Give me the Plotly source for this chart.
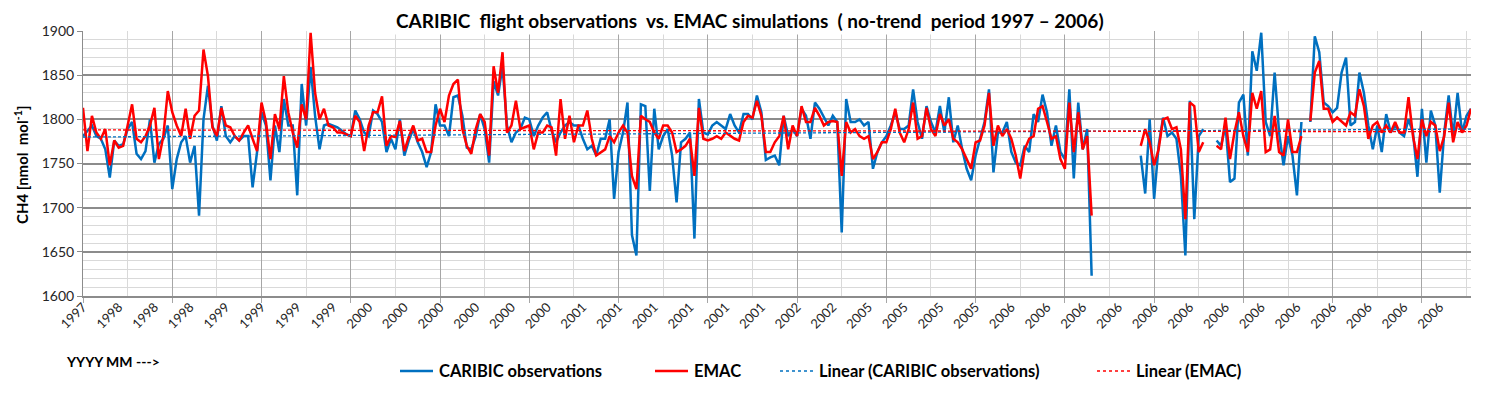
import plotly.graph_objects as go

# CH4 [nmol mol-1], 10 samples per vertical gridline interval, None = no flight
caribic = [
    1781, 1787, 1793, 1781, 1778, 1766, 1734, 1776, 1770, 1772,
    1789, 1797, 1761, 1755, 1764, 1800, 1751, 1772, 1778, 1793,
    1721, 1755, 1774, 1781, 1751, 1770, 1691, 1800, 1838, 1793,
    1776, 1815, 1781, 1774, 1781, 1776, 1781, 1781, 1723, 1763,
    1808, 1793, 1731, 1793, 1763, 1823, 1793, 1793, 1714, 1840,
    1793, 1859, 1804, 1766, 1793, 1795, 1793, 1791, 1787, 1783,
    1781, 1810, 1800, 1785, 1781, 1810, 1806, 1797, 1763, 1778,
    1766, 1800, 1759, 1776, 1789, 1774, 1763, 1746, 1763, 1817,
    1793, 1793, 1781, 1825, 1827, 1804, 1768, 1766, 1781, 1806,
    1789, 1751, 1843, 1827, 1860, 1793, 1774, 1785, 1789, 1802,
    1800, 1781, 1793, 1802, 1808, 1787, 1774, 1785, 1793, 1797,
    1793, 1793, 1778, 1766, 1770, 1759, 1778, 1778, 1800, 1710,
    1763, 1785, 1819, 1669, 1646, 1817, 1815, 1719, 1812, 1766,
    1781, 1789, 1759, 1706, 1774, 1778, 1785, 1665, 1823, 1785,
    1783, 1793, 1797, 1793, 1789, 1806, 1793, 1785, 1806, 1806,
    1800, 1827, 1808, 1754, 1757, 1759, 1748, 1804, 1781, 1789,
    1781, 1812, 1804, 1778, 1819, 1812, 1802, 1793, 1804, 1797,
    1672, 1823, 1797, 1797, 1800, 1793, 1797, 1744, 1763, 1774,
    1781, 1793, 1808, 1789, 1789, 1793, 1834, 1797, 1778, 1815,
    1797, 1785, 1815, 1785, 1825, 1774, 1793, 1766, 1744, 1731,
    1759, 1778, 1797, 1834, 1740, 1785, 1785, 1797, 1763, 1751,
    1748, 1770, 1763, 1806, 1797, 1828, 1808, 1770, 1793, 1763,
    1755, 1834, 1733, 1819, 1766, 1789, 1623, None, None, None,
    None, None, None, None, None, None, None, 1759, 1716, 1800,
    1710, 1770, 1802, 1781, 1785, 1778, 1736, 1646, 1821, 1687,
    1781, 1789, None, None, 1776, 1770, 1793, 1729, 1733, 1819,
    1828, 1759, 1877, 1855, 1898, 1797, 1781, 1853, 1785, 1748,
    1781, 1759, 1714, 1797, None, 1797, 1894, 1876, 1819, 1815,
    1808, 1813, 1853, 1870, 1793, 1797, 1853, 1830, 1793, 1766,
    1793, 1763, 1806, 1785, 1793, 1785, 1781, 1800, 1785, 1735,
    1812, 1751, 1810, 1793, 1717, 1785, 1827, 1781, 1830, 1785,
    1804, 1812,
]

emac = [
    1813, 1764, 1804, 1785, 1778, 1789, 1748, 1776, 1768, 1770,
    1793, 1817, 1778, 1774, 1781, 1793, 1813, 1755, 1781, 1832,
    1808, 1793, 1781, 1812, 1778, 1804, 1810, 1879, 1849, 1791,
    1781, 1813, 1793, 1791, 1781, 1776, 1785, 1793, 1778, 1764,
    1819, 1797, 1755, 1806, 1789, 1849, 1808, 1785, 1768, 1817,
    1800, 1898, 1830, 1800, 1812, 1793, 1791, 1785, 1785, 1783,
    1781, 1804, 1797, 1764, 1793, 1808, 1808, 1826, 1770, 1781,
    1780, 1798, 1764, 1780, 1793, 1776, 1778, 1763, 1763, 1793,
    1812, 1797, 1827, 1840, 1845, 1789, 1770, 1761, 1789, 1806,
    1797, 1759, 1860, 1830, 1876, 1785, 1793, 1821, 1789, 1791,
    1793, 1766, 1785, 1785, 1793, 1791, 1759, 1823, 1778, 1804,
    1774, 1793, 1793, 1810, 1778, 1759, 1763, 1766, 1781, 1774,
    1785, 1793, 1785, 1736, 1721, 1804, 1800, 1797, 1785, 1778,
    1793, 1793, 1785, 1763, 1766, 1770, 1778, 1736, 1813, 1778,
    1776, 1778, 1781, 1778, 1785, 1781, 1778, 1776, 1797, 1804,
    1802, 1821, 1804, 1763, 1763, 1774, 1781, 1804, 1766, 1793,
    1781, 1815, 1797, 1797, 1813, 1804, 1793, 1797, 1798, 1797,
    1736, 1797, 1785, 1789, 1781, 1778, 1781, 1755, 1763, 1774,
    1774, 1789, 1812, 1785, 1774, 1789, 1819, 1778, 1781, 1813,
    1789, 1781, 1806, 1793, 1800, 1778, 1774, 1766, 1755, 1744,
    1774, 1776, 1793, 1830, 1770, 1793, 1781, 1789, 1778, 1759,
    1733, 1766, 1778, 1781, 1812, 1815, 1797, 1778, 1781, 1755,
    1744, 1819, 1763, 1808, 1766, 1781, 1691, None, None, None,
    None, None, None, None, None, None, None, 1770, 1789, 1774,
    1748, 1766, 1800, 1802, 1789, 1791, 1766, 1687, 1819, 1815,
    1763, 1774, None, None, 1770, 1766, 1802, 1755, 1785, 1808,
    1781, 1763, 1830, 1812, 1832, 1763, 1766, 1804, 1763, 1759,
    1800, 1763, 1763, 1781, None, 1798, 1853, 1866, 1812, 1812,
    1797, 1802, 1797, 1793, 1808, 1804, 1834, 1815, 1778, 1793,
    1797, 1785, 1793, 1785, 1797, 1785, 1785, 1825, 1781, 1755,
    1800, 1781, 1797, 1793, 1764, 1781, 1819, 1774, 1797, 1785,
    1793, 1812,
]

# one category label every 8 samples
year_labels = (["1997"] + ["1998"] * 3 + ["1999"] * 4 + ["2000"] * 6 + ["2001"] * 6
               + ["2002"] * 2 + ["2005"] * 4 + ["2006"] * 13)

# Excel linear trend lines, value at first and last sample
trend_caribic = [1780, 1789]
trend_emac = [1788, 1786]

BLUE = "#0070C0"
RED = "#FF0000"
FONT = "Lato"
NB = "\u00a0"

n = len(caribic)
x = [i / 10 for i in range(n)]
x_end = x[-1]
label_pos = [x[k * 8] for k in range(len(year_labels))]

fig = go.Figure()
fig.add_trace(go.Scatter(x=x, y=caribic, mode="lines", name="CARIBIC observations",
                         line=dict(color=BLUE, width=2.5)))
fig.add_trace(go.Scatter(x=x, y=emac, mode="lines", name="EMAC",
                         line=dict(color=RED, width=2.5)))
fig.add_trace(go.Scatter(x=[0, x_end], y=trend_caribic, mode="lines", xaxis="x2",
                         name="Linear (CARIBIC observations)",
                         line=dict(color=BLUE, width=1.3, dash="3px,2px")))
fig.add_trace(go.Scatter(x=[0, x_end], y=trend_emac, mode="lines", xaxis="x2",
                         name="Linear (EMAC)",
                         line=dict(color=RED, width=1.3, dash="3px,2px")))

# the page body has an 8px margin, so the figure is 8px smaller on each side
fig.update_layout(
    width=1482, height=385,
    margin=dict(l=75, r=19, t=23, b=97),
    paper_bgcolor="white", plot_bgcolor="white",
    showlegend=False,
    font=dict(family=FONT, color="#262626"),
    xaxis=dict(
        range=[0, x_end], tickmode="linear", tick0=0, dtick=2,
        showgrid=True, gridcolor="#a6a6a6", gridwidth=1,
        ticks="outside", ticklen=5, tickcolor="#a6a6a6",
        showticklabels=False, zeroline=False,
        showline=True, linecolor="#8c8c8c", linewidth=2,
        minor=dict(dtick=1, showgrid=True, gridcolor="#d9d9d9", gridwidth=1),
    ),
    xaxis2=dict(
        overlaying="x", anchor="y", side="bottom", range=[0, x_end],
        tickmode="array", tickvals=label_pos, ticktext=year_labels,
        tickangle=-45, tickfont=dict(size=13, color="#262626"),
        showgrid=False, zeroline=False, ticks="", showline=False,
    ),
    yaxis=dict(
        range=[1600, 1900], tick0=1600, dtick=50,
        showgrid=True, gridcolor="#8c8c8c", gridwidth=2,
        ticks="outside", ticklen=5, tickcolor="#8c8c8c",
        tickfont=dict(size=14, color="#262626"), zeroline=False,
        showline=True, linecolor="#8c8c8c", linewidth=1,
        minor=dict(dtick=10, showgrid=True, gridcolor="#d9d9d9", gridwidth=1),
    ),
)

# helpers: page pixel -> paper fraction of the plot area (83..1471, 31..296)
PW, PH, L, T = 1388, 265, 83, 31


def px(xp):
    return (xp - L) / PW


def py(yp):
    return (T + PH - yp) / PH


title = ("CARIBIC" + NB * 2 + "flight observations" + NB * 2 + "vs. EMAC simulations"
         + NB * 2 + "(" + NB + "no-trend" + NB * 2 + "period 1997 \u2013 2006)")
fig.add_annotation(
    text="<b>" + title + "</b>",
    x=px(750), y=py(20), xref="paper", yref="paper", xanchor="center", yanchor="middle",
    showarrow=False, font=dict(size=19, color="black", family=FONT),
    bgcolor="white", borderpad=2,
)
fig.add_annotation(
    text="<b>CH4 [nmol" + NB * 2 + "mol<sup>-1</sup>]</b>", textangle=-90,
    x=px(21), y=py(165), xref="paper", yref="paper", xanchor="center", yanchor="middle",
    showarrow=False, font=dict(size=15, color="black", family=FONT),
)
fig.add_annotation(
    text="<b>YYYY MM ---></b>", x=px(64), y=py(361), xref="paper", yref="paper",
    xanchor="left", yanchor="middle", showarrow=False,
    font=dict(size=14, color="black", family=FONT),
)

# legend drawn by hand to keep Excel's spacing
legend = [
    ("CARIBIC observations", BLUE, "solid", 2.5, 400),
    ("EMAC", RED, "solid", 2.5, 655),
    ("Linear (CARIBIC observations)", BLUE, "dot", 1.3, 780),
    ("Linear (EMAC)", RED, "dot", 1.3, 1097),
]
for name, color, dash, width, x0 in legend:
    fig.add_shape(type="line", xref="paper", yref="paper",
                  x0=px(x0), x1=px(x0 + 33), y0=py(371), y1=py(371),
                  line=dict(color=color, width=width, dash=dash))
    fig.add_annotation(text="<b>" + name + "</b>", x=px(x0 + 37), y=py(371),
                       xref="paper", yref="paper", xanchor="left", yanchor="middle",
                       showarrow=False, font=dict(size=16.5, color="black", family=FONT))

fig.write_html("out.html")
